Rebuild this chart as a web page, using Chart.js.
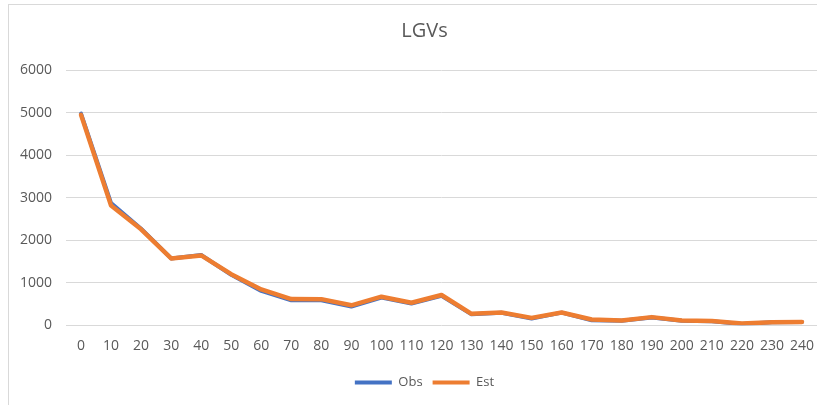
<!DOCTYPE html>
<html>
<head>
<meta charset="utf-8">
<script src="https://cdn.jsdelivr.net/npm/chart.js@4"></script>
<style>
  html, body { margin: 0; padding: 0; background: #ffffff; width: 817px; height: 405px; overflow: hidden; }
  #frame { position: absolute; left: 8px; top: 4px; width: 809px; height: 401px; border-left: 1px solid #d9d9d9; border-top: 1px solid #d9d9d9; }
  #wrap { position: absolute; left: 0; top: 0; width: 817px; height: 405px; }
</style>
</head>
<body>
<div id="frame"></div>
<div id="wrap"><canvas id="c" width="817" height="405"></canvas></div>
<script>
const chartTitle = "LGVs";
const categories = ["0","10","20","30","40","50","60","70","80","90","100","110","120","130","140","150","160","170","180","190","200","210","220","230","240"];
const obsValues = [4975, 2870, 2270, 1570, 1650, 1185, 805, 585, 585, 440, 650, 510, 690, 255, 290, 155, 295, 115, 105, 180, 105, 92, 30, 67, 74];
const estValues = [4945, 2815, 2255, 1570, 1640, 1200, 840, 615, 612, 468, 670, 527, 710, 267, 300, 172, 300, 135, 112, 190, 110, 96, 40, 71, 78];
const seriesNames = ["Obs", "Est"];
const seriesColors = ["#4472C4", "#ED7D31"];
const yMin = 0, yMax = 6000, yStep = 1000;

const FONT = "'Open Sans', 'Liberation Sans', sans-serif";
const TEXT = "#595959";

// The original chart frame extends past the right edge of the picture,
// so its title and legend are centred slightly right of the visible middle.
const shiftCentered = {
  id: "shiftCentered",
  afterLayout(chart) {
    const dx = 16;
    [chart.titleBlock, chart.legend].forEach(b => { if (b) { b.left += dx; b.right += dx; } });
  }
};

new Chart(document.getElementById("c"), {
  type: "line",
  plugins: [shiftCentered],
  data: {
    labels: categories,
    datasets: [
      { label: seriesNames[0], data: obsValues, borderColor: seriesColors[0], backgroundColor: seriesColors[0],
        borderWidth: 4, pointRadius: 0, tension: 0, order: 1, borderJoinStyle: "round", borderCapStyle: "round" },
      { label: seriesNames[1], data: estValues, borderColor: seriesColors[1], backgroundColor: seriesColors[1],
        borderWidth: 4.5, pointRadius: 0, tension: 0, order: 0, borderJoinStyle: "round", borderCapStyle: "round" }
    ]
  },
  options: {
    responsive: false,
    animation: false,
    layout: { autoPadding: false, padding: { left: 0, right: 0, top: 0, bottom: 6 } },
    plugins: {
      title: { display: true, text: chartTitle, color: TEXT, font: { family: FONT, size: 20, weight: "normal" },
        padding: { top: 19, bottom: 27 } },
      legend: {
        position: "bottom",
        labels: {
          color: TEXT, font: { family: FONT, size: 13 }, boxWidth: 37, boxHeight: 4, padding: 10,
          generateLabels: chart => chart.data.datasets.map((ds, i) => ({
            text: ds.label, fillStyle: ds.borderColor, strokeStyle: ds.borderColor, lineWidth: 0,
            hidden: false, datasetIndex: i, fontColor: TEXT
          }))
        }
      },
      tooltip: { enabled: false }
    },
    scales: {
      x: {
        offset: true,
        grid: { display: false, drawTicks: false },
        border: { display: false },
        ticks: { color: TEXT, font: { family: FONT, size: 14 }, padding: 12, maxRotation: 0, autoSkip: false },
        afterFit: s => { s.paddingLeft = 0; s.paddingRight = 0; }
      },
      y: {
        min: yMin, max: yMax,
        grid: { color: "#d9d9d9", lineWidth: 1, drawTicks: false },
        border: { display: false },
        ticks: { stepSize: yStep, color: TEXT, font: { family: FONT, size: 14 }, padding: 14, callback: v => String(v) },
        afterFit: s => { s.width = 66; }
      }
    }
  }
});
</script>
</body>
</html>
